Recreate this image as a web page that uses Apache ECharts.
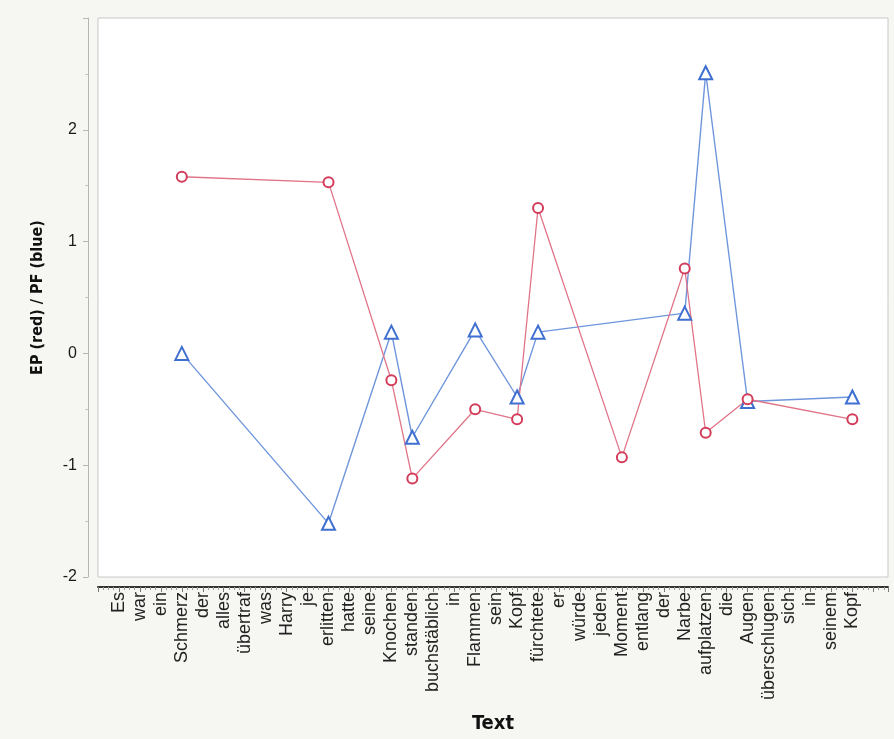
<!DOCTYPE html>
<html>
<head>
<meta charset="utf-8">
<script src="https://cdn.jsdelivr.net/npm/echarts@6/dist/echarts.min.js"></script>
<style>
html,body{margin:0;padding:0;background:#f6f6f3;}
#chart{width:894px;height:739px;}
</style>
</head>
<body>
<div id="chart"></div>
<script>
const categories = ["Es","war","ein","Schmerz","der","alles","übertraf","was","Harry","je","erlitten","hatte","seine","Knochen","standen","buchstäblich","in","Flammen","sein","Kopf","fürchtete","er","würde","jeden","Moment","entlang","der","Narbe","aufplatzen","die","Augen","überschlugen","sich","in","seinem","Kopf"];
const epRed = [null,null,null,1.58,null,null,null,null,null,null,1.53,null,null,-0.24,-1.12,null,null,-0.50,null,-0.59,1.30,null,null,null,-0.93,null,null,0.76,-0.71,null,-0.41,null,null,null,null,-0.59];
const pfBlue = [null,null,null,0.00,null,null,null,null,null,null,-1.52,null,null,0.19,-0.75,null,null,0.21,null,-0.39,0.19,null,null,null,null,null,null,0.36,2.51,null,-0.43,null,null,null,null,-0.39];
const yTicks = [-2,-1,0,1,2];

function toPairs(arr){
  const out = [];
  arr.forEach((v,i)=>{ if(v!==null) out.push([i,v]); });
  return out;
}

const titleFont = "'DejaVu Sans Condensed', 'Liberation Sans', sans-serif";
const chart = echarts.init(document.getElementById('chart'), null, {renderer:'canvas'});
chart.setOption({
  backgroundColor:'#f6f6f3',
  animation:false,
  grid:{left:98,right:6,top:18,bottom:162,show:true,backgroundColor:'#ffffff',borderColor:'#c8c8c8',borderWidth:1},
  xAxis:{
    type:'value',min:-1,max:36.7,interval:1,offset:10,
    name:'Text',nameLocation:'middle',nameGap:127,
    nameTextStyle:{fontFamily:titleFont,fontWeight:'bold',fontSize:20,color:'#111'},
    axisLine:{show:true,onZero:false,lineStyle:{color:'#333',width:2}},
    axisTick:{show:true,length:5,lineStyle:{color:'#777'}},
    minorTick:{show:true,splitNumber:4,length:3,lineStyle:{color:'#999'}},
    splitLine:{show:false},
    axisLabel:{rotate:90,margin:5,fontFamily:'Liberation Sans',fontSize:18,color:'#222',
      formatter:function(v){ return Number.isInteger(v) && v>=0 && v<categories.length ? categories[v] : ''; }}
  },
  yAxis:{
    type:'value',min:-2,max:3,interval:1,offset:10,
    name:'EP (red) / PF (blue)',nameLocation:'middle',nameGap:42,
    nameTextStyle:{fontFamily:titleFont,fontWeight:'bold',fontSize:16,color:'#111'},
    axisLine:{show:true,onZero:false,lineStyle:{color:'#b5b5b5',width:1}},
    axisTick:{show:true,length:5,lineStyle:{color:'#b5b5b5'}},
    minorTick:{show:true,splitNumber:2,length:3,lineStyle:{color:'#c5c5c5'}},
    splitLine:{show:false},
    axisLabel:{margin:11,fontFamily:'Liberation Sans',fontSize:16,color:'#1a1a1a',
      formatter:function(v){ return yTicks.indexOf(v)>=0 ? String(v) : ''; }}
  },
  series:[
    {
      name:'PF',type:'line',data:toPairs(pfBlue),
      symbol:'emptyTriangle',symbolSize:13,
      lineStyle:{color:'#6f96dc',width:1.4},
      itemStyle:{color:'#3f6fd0',borderWidth:2.2}
    },
    {
      name:'EP',type:'line',data:toPairs(epRed),
      symbol:'emptyCircle',symbolSize:10,
      lineStyle:{color:'#e07488',width:1.3},
      itemStyle:{color:'#d33c5a',borderWidth:2.2}
    }
  ]
});
</script>
</body>
</html>
